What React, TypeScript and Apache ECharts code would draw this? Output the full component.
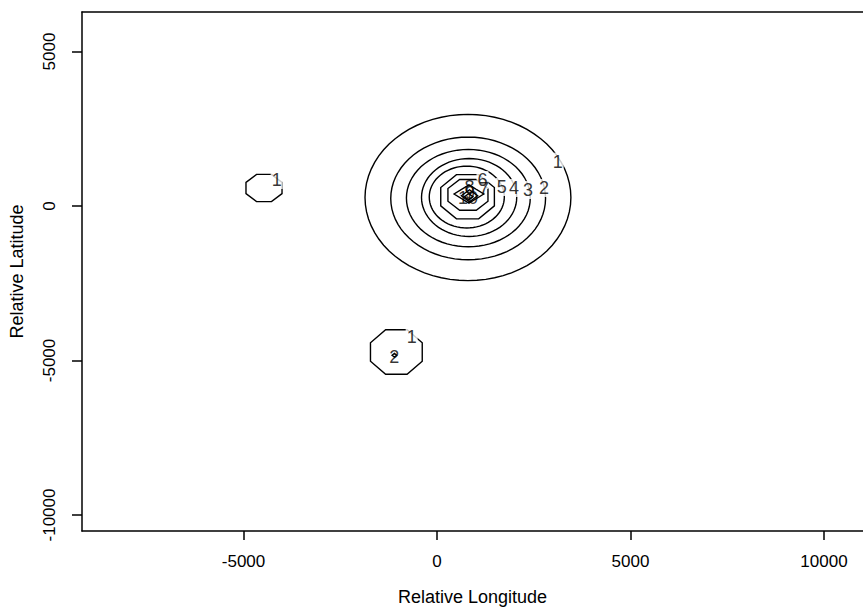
import React, { useEffect, useRef } from "react";
import * as echarts from "echarts";

// Axis ticks
const xTicks = [-5000, 0, 5000, 10000];
const yTicks = [-10000, -5000, 0, 5000];

// Contour rings: level, centre and radii (data units)
const contourLevel = [1, 2, 3, 4, 5, 6, 7, 8, 9, 10, 1, 1, 2];
const contourCenterX = [800, 805, 810, 830, 770, 790, 800, 826, 840, 820, -4470, -1050, -1100];
const contourCenterY = [275, 245, 255, 275, 290, 300, 360, 388, 330, 300, 582, -4725, -4830];
const contourRadiusX = [2660, 2000, 1600, 1230, 970, 750, 560, 384, 210, 110, 504, 724, 60];
const contourRadiusY = [2690, 1985, 1575, 1260, 1000, 775, 540, 297, 195, 100, 476, 777, 60];

// Contour labels
const labelText = ["1", "2", "3", "4", "5", "6", "7", "8", "9", "10", "1", "1", "2"];
const labelX = [3119, 2765, 2351, 1990, 1672, 1176, 1214, 840, 853, 801, -4142, -654, -1103];
const labelY = [1434, 582, 518, 582, 615, 841, 550, 615, 420, 259, 841, -4230, -4877];
const labelGap = [true, true, true, true, true, true, false, false, false, false, true, true, false];

const FONT = '"Liberation Sans", Arial, Helvetica, sans-serif';
const X_MIN = -9173;
const X_MAX = 11008;

export default function App() {
  const ref = useRef<HTMLDivElement>(null);

  useEffect(() => {
    if (!ref.current) return;
    const chart = echarts.init(ref.current, null, { renderer: "svg" });

    const ringData = contourLevel.map((lv, i) => [
      contourCenterX[i],
      contourCenterY[i],
      contourRadiusX[i],
      contourRadiusY[i],
      lv,
    ]);

    const labelData = labelText.map((t, i) => ({
      value: [labelX[i], labelY[i]],
      name: t,
      label: labelGap[i]
        ? { backgroundColor: "#ffffff", padding: [0, 1, 0, 1] }
        : { backgroundColor: "transparent" },
    }));

    const lineStyle = { color: "#000", width: 1.5 };

    chart.setOption({
      animation: false,
      backgroundColor: "#ffffff",
      grid: {
        left: 82,
        top: 12,
        right: 0,
        height: 519,
        show: false,
      },
      xAxis: [
        {
          type: "value",
          position: "bottom",
          min: X_MIN,
          max: X_MAX,
          name: "Relative Longitude",
          nameLocation: "middle",
          nameGap: 57,
          nameTextStyle: { fontFamily: FONT, fontSize: 18, color: "#000" },
          axisLine: { show: true, onZero: false, lineStyle },
          splitLine: { show: false },
          axisTick: {
            show: true,
            customValues: xTicks,
            length: 9,
            inside: false,
            lineStyle,
          },
          axisLabel: {
            customValues: xTicks,
            margin: 22,
            fontFamily: FONT,
            fontSize: 17,
            color: "#000",
            formatter: (v: number) => String(v),
          },
        },
        {
          type: "value",
          position: "top",
          min: X_MIN,
          max: X_MAX,
          axisLine: { show: true, onZero: false, lineStyle },
          splitLine: { show: false },
          axisTick: { show: false },
          axisLabel: { show: false },
        },
      ],
      yAxis: {
        type: "value",
        min: -10518,
        max: 6278,
        name: "Relative Latitude",
        nameLocation: "middle",
        nameGap: 56,
        nameTextStyle: { fontFamily: FONT, fontSize: 18, color: "#000" },
        axisLine: { show: true, onZero: false, lineStyle },
        splitLine: { show: false },
        axisTick: {
          show: true,
          customValues: yTicks,
          length: 10,
          inside: false,
          lineStyle,
        },
        axisLabel: {
          customValues: yTicks,
          rotate: 90,
          margin: 24,
          fontFamily: FONT,
          fontSize: 17,
          color: "#000",
          formatter: (v: number) => String(v),
        },
      },
      series: [
        {
          type: "custom",
          coordinateSystem: "cartesian2d",
          xAxisIndex: 0,
          data: ringData,
          encode: { x: 0, y: 1 },
          clip: true,
          z: 2,
          renderItem: (params: any, api: any) => {
            const cx = api.value(0);
            const cy = api.value(1);
            const rx = api.value(2);
            const ry = api.value(3);
            const c = api.coord([cx, cy]);
            const sx = api.size([rx, 0])[0];
            const sy = api.size([0, ry])[1];
            let n = 72;
            let offset = 0;
            if (sx < 16) {
              n = 4;
            } else if (sx < 30) {
              n = 8;
              offset = Math.PI / 8;
            }
            const pts: number[][] = [];
            for (let k = 0; k < n; k++) {
              const a = offset + (2 * Math.PI * k) / n;
              pts.push([c[0] + sx * Math.cos(a), c[1] + sy * Math.sin(a)]);
            }
            return {
              type: "polygon",
              shape: { points: pts },
              style: { fill: "none", stroke: "#000", lineWidth: 1.4 },
            };
          },
        },
        {
          type: "scatter",
          xAxisIndex: 0,
          data: labelData,
          symbolSize: 0,
          z: 5,
          silent: true,
          label: {
            show: true,
            position: "inside",
            formatter: "{b}",
            fontFamily: FONT,
            fontSize: 18,
            color: "#000",
          },
        },
      ],
    });

    return () => chart.dispose();
  }, []);

  return (
    <div
      ref={ref}
      style={{ position: "fixed", left: 0, top: 0, width: 863, height: 614, background: "#fff" }}
    />
  );
}
